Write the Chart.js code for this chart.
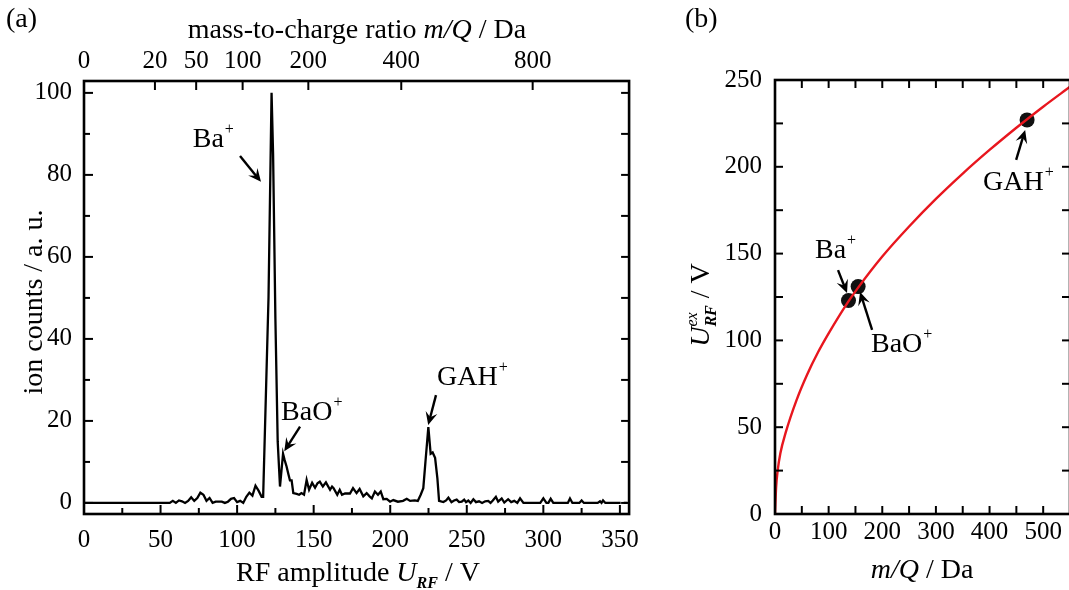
<!DOCTYPE html>
<html>
<head>
<meta charset="utf-8">
<script src="https://cdn.jsdelivr.net/npm/chart.js@4"></script>
<style>
  html, body { margin: 0; padding: 0; background: #fff; overflow: hidden; }
  #wrap { position: relative; width: 1069px; height: 590px; }
  #ca { position: absolute; left: 0; top: 0; }
  #cb { position: absolute; left: 680px; top: 0; }
</style>
</head>
<body>
<div id="wrap">
  <canvas id="ca" width="650" height="590"></canvas>
  <canvas id="cb" width="400" height="590"></canvas>
</div>
<script>
// panel (a): spectrum, RF amplitude (V) vs ion counts (a. u.)
const urf = [0, 56, 58, 60, 62, 64, 66, 68, 70, 72, 74, 76, 78, 80, 82, 84, 86, 88, 90, 92, 94, 96, 98, 100,
  102, 104, 106, 108, 110, 112, 114, 116, 117, 120.5, 122.5, 123.5, 125, 126.5, 128, 130, 131, 132.3, 133.5,
  134.5, 135.6, 136.7, 138.9, 140.5, 142, 143.7, 145.4, 147, 149, 150.9, 152.5, 154, 156, 158, 160.7, 162, 163,
  165.4, 167, 168.5, 170.5, 173.7, 175.7, 178, 180, 182.4, 184.6, 186.5, 188, 190, 192, 193.8, 195.5, 197.7,
  199.9, 202, 205, 208.4, 210.8, 213, 216, 218, 219.9, 221.6, 223, 224.9, 226.4, 227.7, 229.3, 230.8, 231.9,
  234.7, 236.5, 238, 240, 241.7, 243.4, 245, 246.7, 248.3, 249.5, 251, 252.5, 254.3, 256, 258, 260, 262, 264,
  265.5, 267, 269, 270.5, 272.8, 274.5, 277, 279, 281, 283, 284.8, 287, 298, 300, 302, 303.3, 304.8, 306.5,
  316, 317.4, 319, 323.5, 325, 326.5, 335.5, 337, 338, 339, 340.5, 350.5, 351, 352.5, 355]
const counts = [0, 0, 0.5, 0, 0.6, 0.4, 0, 0.5, 1.4, 0.5, 1.2, 2.5, 2, 0.5, 1.2, 0, 0.3, 0.3, 0.3, 0, 0.3, 1, 1.2, 0.2,
  0.5, 0, 1.5, 2.5, 1.8, 4.2, 3, 1.5, 1.5, 50, 100, 85, 45, 15, 4, 12, 10.5, 8.9, 7,
  5.5, 5.5, 2.4, 2.2, 2, 2.4, 2, 5.6, 3.2, 4.9, 3.7, 4.8, 5.2, 4, 5, 3.2, 4, 3.6,
  2, 3.2, 2, 2.3, 2.3, 3.6, 2.4, 3.4, 1.6, 2.4, 1.6, 1.1, 2.8, 2, 2.8, 0.9, 1,
  0.3, 0.7, 0.3, 0.5, 1, 0.5, 0.6, 0.5, 2, 3.6, 10, 18.5, 12, 12.3, 11, 6, 0.5,
  0.2, 0.6, 1.3, 0.2, 0.6, 0.8, 0.2, 0.3, 0.8, 0.2, 0.6, 0, 0.9, 0.2, 0.4, 0, 0.4, 0.5,
  0, 0.6, 1.5, 0.3, 1.1, 0.1, 0.9, 0.2, 0.5, 0, 1.1, 0, 0, 1.1, 0, 0, 1, 0,
  0, 1.1, 0, 0, 0.6, 0, 0, 0.4, 0, 0.6, 0, 0, null, 0, 0]
const uTicks = [0, 50, 100, 150, 200, 250, 300, 350]
const countTicks = [0, 20, 40, 60, 80, 100]
const massTicks = [0, 20, 50, 100, 200, 400, 800]
const kCal = 10.36 // U = kCal * sqrt(m/Q)

// panel (b): U_RF^ex vs m/Q
const curveM = [0, 2, 5, 10, 20, 40, 60, 80, 100, 136, 155, 200, 250, 300, 350, 400, 450, 470, 500, 550]
const curveU = [0, 15, 25, 35, 47, 65.5, 80.4, 93, 104, 122, 130.4, 148.3, 165.6, 181.5, 196.1, 209.7, 222.5, 227.4, 234.6, 246.1]
const ionM = [137, 155, 470]
const ionU = [123, 131, 227]
const mTicks = [0, 100, 200, 300, 400, 500]
const uexTicks = [0, 50, 100, 150, 200, 250]

const serif = '"Liberation Serif", "Times New Roman", serif'
const f = (size, style) => (style || '') + ' ' + size + 'px ' + serif
const range = (a, b, s) => { let r = []; for (let v = a; v <= b + 1e-9; v += s) r.push(v); return r }

function drawParts(ctx, parts, x, y, align, angle) {
  ctx.save()
  ctx.translate(x, y)
  if (angle) ctx.rotate(angle)
  ctx.fillStyle = '#000'
  ctx.textAlign = 'left'
  ctx.textBaseline = 'alphabetic'
  let w = 0
  parts.forEach(p => { ctx.font = p.f; if (!p.stack) w += ctx.measureText(p.t).width + (p.dx || 0) })
  let cx = align === 'center' ? -w / 2 : 0
  let last = 0
  parts.forEach(p => {
    ctx.font = p.f
    const tw = ctx.measureText(p.t).width
    if (p.stack) {
      ctx.fillText(p.t, cx - last + (p.dx || 0), p.dy || 0)
    } else {
      cx += (p.dx || 0)
      ctx.fillText(p.t, cx, p.dy || 0)
      cx += tw
      last = tw
    }
  })
  ctx.restore()
}

function arrow(ctx, x1, y1, x2, y2) {
  const a = Math.atan2(y2 - y1, x2 - x1)
  ctx.save()
  ctx.strokeStyle = '#000'; ctx.fillStyle = '#000'; ctx.lineWidth = 2.4
  ctx.beginPath()
  ctx.moveTo(x1, y1)
  ctx.lineTo(x2 - Math.cos(a) * 7, y2 - Math.sin(a) * 7)
  ctx.stroke()
  ctx.translate(x2, y2)
  ctx.rotate(a)
  ctx.beginPath()
  ctx.moveTo(0, 0); ctx.lineTo(-13, -6); ctx.lineTo(-8, 0); ctx.lineTo(-13, 6)
  ctx.closePath(); ctx.fill()
  ctx.restore()
}

function ionLabels(chart, list) {
  const ctx = chart.ctx, sx = chart.scales.x, sy = chart.scales.y
  list.forEach(l => {
    drawParts(ctx, [{ t: l.name, f: f(28) }, { t: '+', f: f(16), dy: -13, dx: 1 }],
      sx.getPixelForValue(l.at[0]), sy.getPixelForValue(l.at[1]))
    arrow(ctx, sx.getPixelForValue(l.tail[0]), sy.getPixelForValue(l.tail[1]),
      sx.getPixelForValue(l.head[0]), sy.getPixelForValue(l.head[1]))
  })
}

function frameAndTicks(chart, spec) {
  const ctx = chart.ctx, ca = chart.chartArea
  ctx.save()
  ctx.strokeStyle = '#000'
  ctx.lineWidth = 2
  spec.forEach(s => {
    const sc = chart.scales[s.scale]
    s.values.forEach(v => {
      const p = sc.getPixelForValue(v)
      ctx.beginPath()
      if (s.side === 'bottom') { ctx.moveTo(p, ca.bottom); ctx.lineTo(p, ca.bottom - s.len) }
      if (s.side === 'top') { ctx.moveTo(p, ca.top); ctx.lineTo(p, ca.top + s.len) }
      if (s.side === 'left') { ctx.moveTo(ca.left, p); ctx.lineTo(ca.left + s.len, p) }
      if (s.side === 'right') { ctx.moveTo(ca.right, p); ctx.lineTo(ca.right - s.len, p) }
      ctx.stroke()
    })
  })
  ctx.lineWidth = 2.6
  ctx.strokeRect(ca.left, ca.top, ca.right - ca.left, ca.bottom - ca.top)
  ctx.restore()
}

const tickFont = { family: serif, size: 25 }

// ---------- panel (a)
const spectrum = urf.map((u, i) => ({ x: u, y: counts[i] }))
new Chart(document.getElementById('ca').getContext('2d'), {
  type: 'scatter',
  data: {
    datasets: [{
      data: spectrum, showLine: true, spanGaps: false, borderColor: '#000', borderWidth: 2.3,
      pointRadius: 0, tension: 0
    }]
  },
  options: {
    responsive: false, animation: false, devicePixelRatio: 1,
    layout: { padding: { left: 0, right: 20, top: 0, bottom: 0 } },
    plugins: { legend: { display: false }, tooltip: { enabled: false } },
    scales: {
      x: {
        type: 'linear', position: 'bottom', min: 0, max: 356,
        afterBuildTicks: s => { s.ticks = uTicks.map(v => ({ value: v })) },
        afterFit: s => { s.height = 76 },
        ticks: { font: tickFont, color: '#000', padding: 11, maxRotation: 0, autoSkip: false },
        grid: { display: false, drawTicks: false }, border: { display: false }
      },
      x2: {
        type: 'linear', position: 'top', min: 0, max: 356,
        afterBuildTicks: s => { s.ticks = massTicks.map(m => ({ value: kCal * Math.sqrt(m) })) },
        afterFit: s => { s.height = 81 },
        ticks: { font: tickFont, color: '#000', padding: 5, maxRotation: 0, autoSkip: false,
          callback: (v, i) => massTicks[i] },
        grid: { display: false, drawTicks: false }, border: { display: false }
      },
      y: {
        min: -2.7, max: 102.9,
        afterBuildTicks: s => { s.ticks = countTicks.map(v => ({ value: v })) },
        afterFit: s => { s.width = 84 },
        ticks: { font: tickFont, color: '#000', padding: 12 },
        grid: { display: false, drawTicks: false }, border: { display: false }
      }
    }
  },
  plugins: [{
    id: 'decorA',
    afterDraw(chart) {
      const ctx = chart.ctx
      frameAndTicks(chart, [
        { scale: 'x', side: 'bottom', values: uTicks, len: 9 },
        { scale: 'x', side: 'bottom', values: range(25, 325, 50), len: 6 },
        { scale: 'x2', side: 'top', values: massTicks.map(m => kCal * Math.sqrt(m)), len: 9 },
        { scale: 'y', side: 'left', values: countTicks, len: 9 },
        { scale: 'y', side: 'left', values: range(10, 90, 20), len: 6 },
        { scale: 'y', side: 'right', values: range(0, 100, 10), len: 8 }
      ])
      ionLabels(chart, [
        { name: 'Ba', at: [71, 86.8], tail: [101.9, 84.6], head: [115.6, 78.3] },
        { name: 'BaO', at: [128.7, 20.2], tail: [141.1, 18.6], head: [130.8, 12.6] },
        { name: 'GAH', at: [230.6, 28.8], tail: [229.9, 26.3], head: [224.8, 19] }
      ])
      drawParts(ctx, [{ t: '(a)', f: f(28) }], 6, 27)
      drawParts(ctx, [
        { t: 'mass-to-charge ratio ', f: f(28) },
        { t: 'm/Q', f: f(28, 'italic') },
        { t: ' / Da', f: f(28) }
      ], 357, 38, 'center')
      drawParts(ctx, [
        { t: 'RF amplitude ', f: f(28) },
        { t: 'U', f: f(28, 'italic') },
        { t: 'RF', f: f(16, 'italic bold'), dy: 7 },
        { t: ' / V', f: f(28) }
      ], 358, 581, 'center')
      drawParts(ctx, [{ t: 'ion counts / a. u.', f: f(28) }], 42, 302, 'center', -Math.PI / 2)
    }
  }]
})

// ---------- panel (b)
const curve = curveM.map((m, i) => ({ x: m, y: curveU[i] }))
const ions = ionM.map((m, i) => ({ x: m, y: ionU[i] }))
new Chart(document.getElementById('cb').getContext('2d'), {
  type: 'scatter',
  data: {
    datasets: [
      { data: curve, showLine: true, borderColor: '#e8161e', borderWidth: 2.4, pointRadius: 0, cubicInterpolationMode: 'monotone' },
      { data: ions, showLine: false, pointRadius: 7.5, pointBackgroundColor: '#111', pointBorderColor: '#111', pointBorderWidth: 0 }
    ]
  },
  options: {
    responsive: false, animation: false, devicePixelRatio: 1,
    layout: { padding: { left: 0, right: 10, top: 80, bottom: 0 } },
    plugins: { legend: { display: false }, tooltip: { enabled: false } },
    scales: {
      x: {
        type: 'linear', position: 'bottom', min: 0, max: 550,
        afterBuildTicks: s => { s.ticks = mTicks.map(v => ({ value: v })) },
        afterFit: s => { s.height = 76 },
        ticks: { font: tickFont, color: '#000', padding: 3, maxRotation: 0, autoSkip: false },
        grid: { display: false, drawTicks: false }, border: { display: false }
      },
      y: {
        min: 0, max: 250,
        afterBuildTicks: s => { s.ticks = uexTicks.map(v => ({ value: v })) },
        afterFit: s => { s.width = 95 },
        ticks: { font: tickFont, color: '#000', padding: 13 },
        grid: { display: false, drawTicks: false }, border: { display: false }
      }
    }
  },
  plugins: [{
    id: 'decorB',
    afterDraw(chart) {
      const ctx = chart.ctx
      frameAndTicks(chart, [
        { scale: 'x', side: 'bottom', values: range(0, 550, 50), len: 8 },
        { scale: 'x', side: 'top', values: range(0, 550, 50), len: 8 },
        { scale: 'y', side: 'left', values: range(0, 250, 25), len: 8 },
        { scale: 'y', side: 'right', values: range(0, 250, 25), len: 8 }
      ])
      ionLabels(chart, [
        { name: 'Ba', at: [74.6, 147.5], tail: [117.5, 140.5], head: [134.3, 127.3] },
        { name: 'BaO', at: [179, 93.3], tail: [181, 106], head: [158.6, 127.9] },
        { name: 'GAH', at: [388, 186.6], tail: [449.6, 204], head: [466.4, 221.2] }
      ])
      drawParts(ctx, [{ t: '(b)', f: f(28) }], 5, 27)
      drawParts(ctx, [
        { t: 'm/Q', f: f(28, 'italic') },
        { t: ' / Da', f: f(28) }
      ], 242, 578, 'center')
      drawParts(ctx, [
        { t: 'U', f: f(28, 'italic') },
        { t: 'RF', f: f(16, 'italic bold'), dy: 7, dx: 0 },
        { t: 'ex', f: f(16, 'italic'), dy: -12, stack: true },
        { t: ' / V', f: f(28) }
      ], 29, 305, 'center', -Math.PI / 2)
    }
  }]
})
</script>
</body>
</html>
